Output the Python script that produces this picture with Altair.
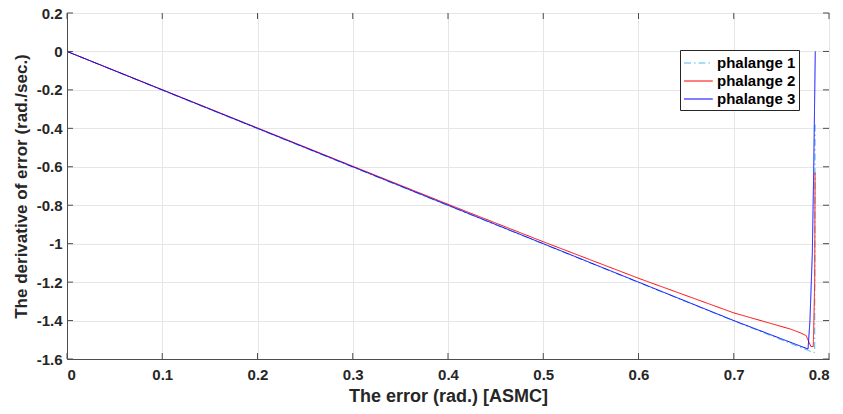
import altair as alt
import pandas as pd

# ---- data (trajectory order: from initial error towards origin) ----
p1_x = [0.7854, 0.7852, 0.7850, 0.7820, 0.7790, 0.70, 0.60, 0.50, 0.40, 0.30, 0.20, 0.10, 0.0]
p1_y = [-0.38, -0.85, -1.565, -1.565, -1.557, -1.402, -1.202, -1.002, -0.802, -0.602, -0.402, -0.202, 0.0]

p2_x = [0.7854, 0.7850, 0.7835, 0.7810, 0.7760, 0.7700, 0.7600, 0.70, 0.65, 0.60, 0.55, 0.50, 0.40, 0.30, 0.20, 0.10, 0.0]
p2_y = [-0.63, -1.20, -1.535, -1.535, -1.478, -1.464, -1.445, -1.360, -1.270, -1.180, -1.085, -0.990, -0.795, -0.597, -0.398, -0.199, 0.0]

p3_x = [0.7856, 0.7840, 0.7825, 0.7800, 0.7780, 0.70, 0.60, 0.50, 0.40, 0.30, 0.20, 0.10, 0.0]
p3_y = [0.0, -0.60, -1.05, -1.40, -1.548, -1.400, -1.200, -1.000, -0.800, -0.600, -0.400, -0.200, 0.0]

names = ["phalange 1", "phalange 2", "phalange 3"]
colors = ["#4DBEEE", "#FF0000", "#0000FF"]
dashes = [[7, 3, 1.5, 3], [1, 0], [1, 0]]

x_ticks = [0, 0.1, 0.2, 0.3, 0.4, 0.5, 0.6, 0.7, 0.8]
y_ticks = [-1.6, -1.4, -1.2, -1.0, -0.8, -0.6, -0.4, -0.2, 0, 0.2]

rows = []
for name, xs, ys in zip(names, [p1_x, p2_x, p3_x], [p1_y, p2_y, p3_y]):
    for i, (x, y) in enumerate(zip(xs, ys)):
        rows.append({"series": name, "e": x, "de": y, "k": i})
df = pd.DataFrame(rows)

W, H = 762, 346
FONT = "Liberation Sans"
TXT = "#262626"
lab = "replace(format(datum.value, '~g'), '\u2212', '-')"

xscale = alt.Scale(domain=[0, 0.8], nice=False, zero=False)
yscale = alt.Scale(domain=[-1.6, 0.2], nice=False, zero=False)

xaxis = alt.Axis(values=x_ticks, labelExpr=lab, title="The error (rad.) [ASMC]",
                 tickSize=0, labelPadding=8, titlePadding=5, grid=True,
                 labelOverlap=False, titleFontSize=18)
yaxis = alt.Axis(values=y_ticks, labelExpr=lab, title="The derivative of error (rad./sec.)",
                 tickSize=0, labelPadding=5, titlePadding=6, grid=True,
                 labelOverlap=False, titleFontSize=17)

leg = alt.Legend(title=None, orient="none", legendX=613, legendY=37)

lines = alt.Chart(df).mark_line(strokeWidth=1, clip=True).encode(
    x=alt.X("e:Q", scale=xscale, axis=xaxis),
    y=alt.Y("de:Q", scale=yscale, axis=yaxis),
    color=alt.Color("series:N", scale=alt.Scale(domain=names, range=colors), legend=leg),
    strokeDash=alt.StrokeDash("series:N", scale=alt.Scale(domain=names, range=dashes), legend=leg),
    order=alt.Order("k:Q"),
)

xt = pd.DataFrame({"t": x_ticks})
yt = pd.DataFrame({"t": y_ticks})
tick_col = "#4d4d4d"
bot = alt.Chart(xt).mark_rule(color=tick_col, strokeWidth=1).encode(
    x=alt.X("t:Q", scale=xscale, axis=xaxis), y=alt.value(H), y2=alt.value(H - 6))
top = alt.Chart(xt).mark_rule(color=tick_col, strokeWidth=1).encode(
    x=alt.X("t:Q", scale=xscale, axis=xaxis), y=alt.value(0), y2=alt.value(6))
left = alt.Chart(yt).mark_rule(color=tick_col, strokeWidth=1).encode(
    y=alt.Y("t:Q", scale=yscale, axis=yaxis), x=alt.value(0), x2=alt.value(6))
right = alt.Chart(yt).mark_rule(color=tick_col, strokeWidth=1).encode(
    y=alt.Y("t:Q", scale=yscale, axis=yaxis), x=alt.value(W), x2=alt.value(W - 6))

chart = alt.layer(lines, bot, top, left, right).properties(
    width=W, height=H,
    autosize=alt.AutoSizeParams(type="none"),
    padding={"left": 67, "top": 13, "right": 14, "bottom": 55},
    background="white",
).configure_view(
    stroke="#4d4d4d", strokeWidth=1
).configure_axis(
    labelFont=FONT, labelFontSize=15, labelFontWeight="bold", labelColor=TXT,
    titleFont=FONT, titleFontWeight="bold", titleColor=TXT,
    gridColor="#e6e6e6", gridWidth=1, domainColor="#4d4d4d", domainWidth=1,
).configure_legend(
    labelFont=FONT, labelFontSize=15, labelFontWeight="bold", labelColor="#000000",
    strokeColor="#262626", fillColor="white", padding=3,
    symbolType="M-1,0H2.2", symbolSize=324, symbolStrokeWidth=1.2,
    rowPadding=0, labelOffset=14,
)

chart.save("out.html", embed_options={"renderer": "svg", "actions": False})
